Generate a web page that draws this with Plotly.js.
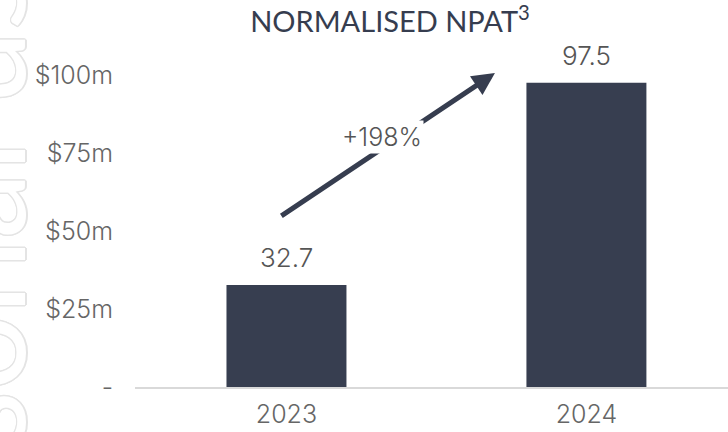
<!DOCTYPE html>
<html>
<head>
<meta charset="utf-8">
<script src="https://cdn.plot.ly/plotly-3.0.1.min.js"></script>
<style>
  html, body { margin: 0; padding: 0; background: #ffffff; }
  #chart { width: 728px; height: 432px; }
</style>
</head>
<body>
<div id="chart"></div>
<script>
// ---- data ----
const years = ['2023', '2024'];
const npat = [32.7, 97.5];
const yTickVals = [0, 25, 50, 75, 100];
const yTickText = ['-', '$25m', '$50m', '$75m', '$100m'];
const growthLabel = '+198%';
const chartTitle = 'NORMALISED NPAT<sup>3</sup>';
const watermarkText = 'For personal use only';

const navy = '#373e50';
const grey = '#666666';
const titleFam = 'Lato, "Open Sans", sans-serif';
const numFam = 'Inter, Lato, sans-serif';

const trace = {
  type: 'bar',
  x: years,
  y: npat,
  width: 0.4,
  marker: { color: navy },
  textposition: 'none',
  hoverinfo: 'none'
};

// value labels above each bar (category axis: position = category index)
const valueLabels = years.map((yr, i) => ({
  xref: 'x', yref: 'y',
  x: i, y: npat[i],
  yanchor: 'bottom',
  yshift: 10,
  text: npat[i].toFixed(1),
  showarrow: false,
  font: { family: numFam, size: 26, color: '#555555', weight: 300 }
}));

const layout = {
  width: 728,
  height: 432,
  margin: { l: 135, r: 0, t: 40, b: 45 },
  paper_bgcolor: '#ffffff',
  plot_bgcolor: 'rgba(0,0,0,0)',
  showlegend: false,
  font: { family: numFam, color: grey },
  title: {
    text: chartTitle,
    font: { family: titleFam, size: 29, color: '#363d4f', weight: 400 },
    xref: 'container', x: 390 / 728, xanchor: 'center',
    yref: 'container', y: 1 - 22 / 432, yanchor: 'middle'
  },
  xaxis: {
    type: 'category',
    range: [-0.505, 1.472],
    showline: true,
    linecolor: '#d9d9d9',
    linewidth: 2,
    ticks: '',
    showgrid: false,
    zeroline: false,
    tickfont: { family: numFam, size: 25, color: grey, weight: 300 },
    ticklabelstandoff: 4,
    fixedrange: true
  },
  yaxis: {
    range: [0, 111.2],
    tickvals: yTickVals,
    ticktext: yTickText,
    showgrid: false,
    zeroline: false,
    showline: false,
    ticks: '',
    tickfont: { family: numFam, size: 25, color: grey, weight: 300 },
    ticklabelstandoff: 21,
    fixedrange: true
  },
  annotations: valueLabels.concat([
    {
      // growth arrow from 2023 towards 2024
      xref: 'x', yref: 'y', axref: 'x', ayref: 'y',
      x: 0.695, y: 100.6,
      ax: -0.022, ay: 54.5,
      text: '',
      showarrow: true,
      arrowhead: 2,
      arrowsize: 0.9,
      arrowwidth: 5,
      arrowcolor: '#363d4f'
    },
    {
      xref: 'x', yref: 'y',
      x: 0.318, y: 80,
      text: growthLabel,
      showarrow: false,
      bgcolor: '#ffffff',
      borderpad: 1,
      font: { family: numFam, size: 25, color: '#555555', weight: 300 }
    },
    {
      xref: 'paper', yref: 'paper',
      x: (-27 - 135) / 593, y: 0.415,
      xanchor: 'center', yanchor: 'middle',
      text: watermarkText,
      textangle: -90,
      showarrow: false,
      font: {
        family: titleFam, size: 135, color: '#ffffff', weight: 400,
        shadow: '1.5px 0 0 #e4e4e4, -1.5px 0 0 #e4e4e4, 0 1.5px 0 #e4e4e4, 0 -1.5px 0 #e4e4e4, 1px 1px 0 #e4e4e4, -1px -1px 0 #e4e4e4, 1px -1px 0 #e4e4e4, -1px 1px 0 #e4e4e4'
      }
    }
  ])
};

Plotly.newPlot('chart', [trace], layout, { staticPlot: true, displayModeBar: false });
</script>
</body>
</html>
